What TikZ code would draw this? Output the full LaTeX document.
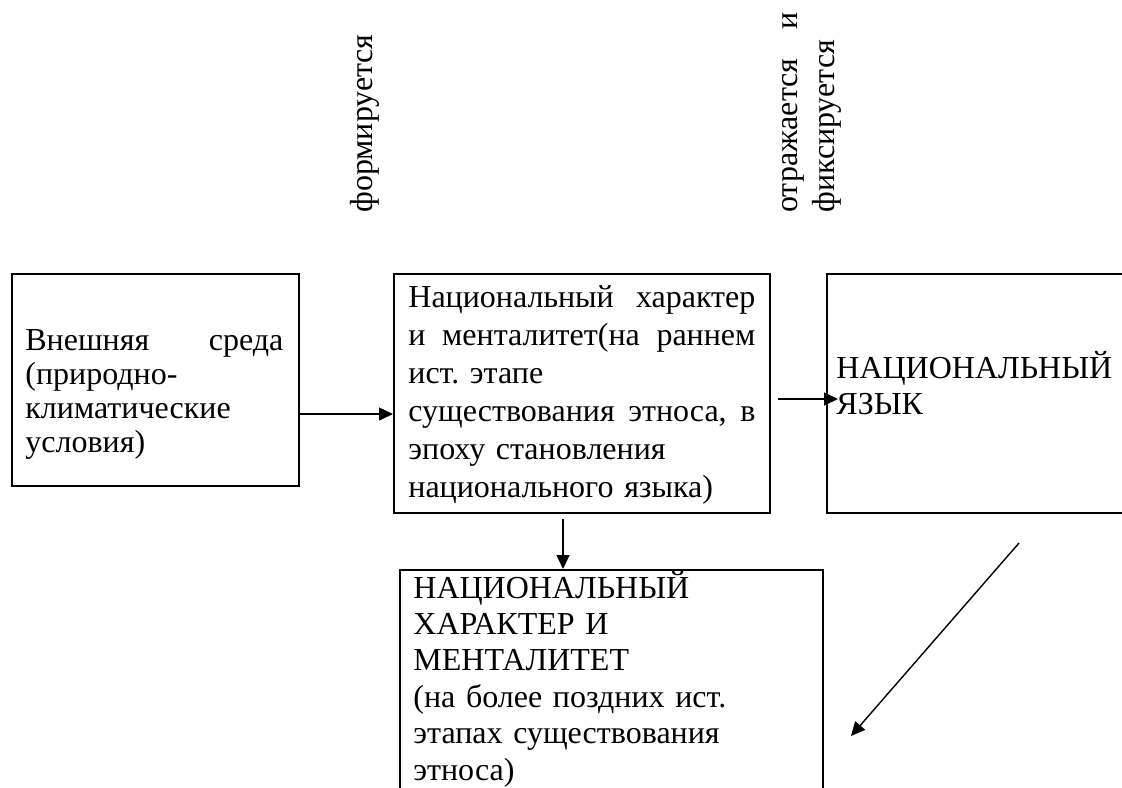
\documentclass[tikz,border=0pt]{standalone}
\usepackage{fontspec}
\setmainfont{Liberation Serif}
\frenchspacing
\usetikzlibrary{arrows.meta}
\begin{document}
\begin{tikzpicture}[x=0.5pt,y=-0.5pt,
  box/.style={draw, line width=0.9pt, inner sep=0pt, anchor=north west},
  txt/.style={anchor=base west, inner sep=0pt, align=left},
  vtxt/.style={anchor=base west, inner sep=0pt, rotate=90, font=\fontsize{16pt}{18pt}\selectfont},
  arr/.style={line width=0.7pt, -{Triangle[length=7pt,width=6.5pt]}}]
\useasboundingbox (0,0) rectangle (1122,787);
\begin{scope}
\clip (0,0) rectangle (1122,787);
% boxes
\node[box, minimum width=143.5pt, minimum height=106pt] (env) at (11,273) {};
\node[box, minimum width=188pt, minimum height=119.5pt] (mid) at (393,273) {};
\node[box, minimum width=160pt, minimum height=119.5pt] (lang) at (826,273) {};
\node[box, minimum width=211.5pt, minimum height=116pt] (late) at (399,569) {};
% texts
\node[txt, text width=129pt, font=\fontsize{16pt}{17pt}\selectfont] (envtext) at (25,350)
  {Внешняя\hfill среда\\(природно-\\климатические\\условия)};
\node[txt, text width=173.5pt, font=\fontsize{16pt}{19pt}\selectfont] (midtext) at (408,307)
  {Национальный\hfill характер\\и\hfill менталитет(на\hfill раннем\\ист. этапе\\существования\hfill этноса,\hfill в\\эпоху становления\\национального языка)};
\node[txt, text width=150pt, font=\fontsize{16pt}{18pt}\selectfont] (langtext) at (836,378)
  {НАЦИОНАЛЬНЫЙ\\ЯЗЫК};
\node[txt, text width=200pt, font=\fontsize{16pt}{18.2pt}\selectfont] (latetext) at (413,598)
  {НАЦИОНАЛЬНЫЙ\\ХАРАКТЕР И\\МЕНТАЛИТЕТ\\(на более поздних ист.\\этапах существования\\этноса)};
% rotated labels
\node[vtxt] (forms) at (372,213) {формируется};
\node[vtxt] (reflects) at (797,213) {\hbox to 100pt{отражается\hfill и}};
\node[vtxt] (fixes) at (834,213) {фиксируется};
% connectors
\coordinate (m2ls) at (778,399);
\coordinate (m2le) at (838,399);
\coordinate (m2bs) at (563,519);
\coordinate (d1) at (1019,543);
\coordinate (d2) at (851,736);
\draw[arr] (env.east |- 0,414) -- (mid.west |- 0,414);
\draw[arr] (m2ls) -- (m2le);
\draw[arr] (m2bs) -- (late.north -| m2bs);
\draw[arr] (d1) -- (d2);
\end{scope}
\end{tikzpicture}
\end{document}
